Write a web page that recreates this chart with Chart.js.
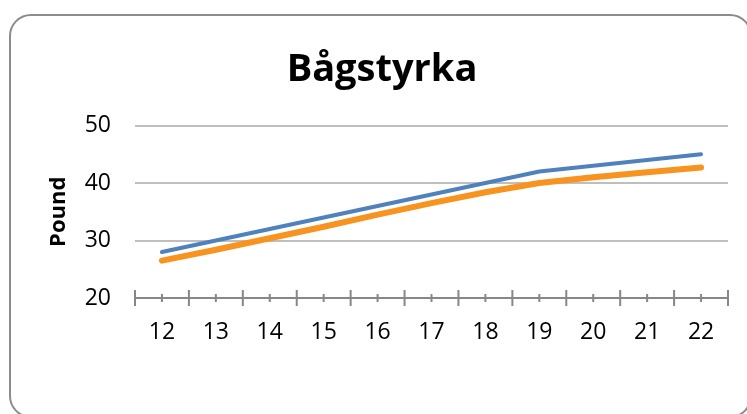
<!DOCTYPE html>
<html>
<head>
<meta charset="utf-8">
<script src="https://cdn.jsdelivr.net/npm/chart.js@4"></script>
<style>
html, body { margin: 0; padding: 0; background: #fff; overflow: hidden; }
#wrap { position: relative; width: 747px; height: 414px; overflow: hidden; }
#frame { position: absolute; left: 9px; top: 14px; width: 739px; height: 400px;
  border: 2px solid #8c8c8c; border-radius: 22px; }
canvas { position: absolute; left: 0; top: 0; }
</style>
</head>
<body>
<div id="wrap">
<div id="frame"></div>
<canvas id="chart" width="747" height="414"></canvas>
</div>
<script>
// data
var ages = ["12", "13", "14", "15", "16", "17", "18", "19", "20", "21", "22"];
var blue = [28, 30, 32, 34, 36, 38, 40, 42, 43, 44, 45];
var orange = [26.5, 28.4, 30.4, 32.4, 34.5, 36.5, 38.4, 40, 41, 41.9, 42.7];
var yTicks = [20, 30, 40, 50];

var font = "'Open Sans', 'DejaVu Sans', sans-serif";

// ticks that cross the x axis line: long ones between categories, short ones at centers
var crossTicks = {
	id: "crossTicks",
	afterDraw: function(chart){
		var x = chart.scales.x;
		var y0 = chart.chartArea.bottom;
		var ctx = chart.ctx;
		var half = (x.getPixelForValue(1) - x.getPixelForValue(0)) / 2;
		ctx.save();
		ctx.strokeStyle = "#878787";
		ctx.lineWidth = 2;
		ctx.beginPath();
		for (var i = 0; i < ages.length; i++) {
			var c = x.getPixelForValue(i);
			ctx.moveTo(c - half, y0 - 8); ctx.lineTo(c - half, y0 + 8);
			ctx.moveTo(c, y0 - 4); ctx.lineTo(c, y0 + 4);
		}
		var last = x.getPixelForValue(ages.length - 1) + half;
		ctx.moveTo(last, y0 - 8); ctx.lineTo(last, y0 + 8);
		ctx.stroke();
		ctx.restore();
	}
};

var chart = new Chart(document.getElementById("chart"), {
	type: "line",
	data: {
		labels: ages,
		datasets: [
			{
				label: "A",
				data: blue,
				borderColor: "#4f81bd",
				borderWidth: 4,
				pointRadius: 0,
				tension: 0,
				borderCapStyle: "round",
				borderJoinStyle: "round"
			},
			{
				label: "B",
				data: orange,
				borderColor: "#f7931e",
				borderWidth: 6,
				pointRadius: 0,
				tension: 0,
				borderCapStyle: "round",
				borderJoinStyle: "round"
			}
		]
	},
	options: {
		responsive: false,
		animation: false,
		events: [],
		layout: { padding: { left: 36, right: 19, top: 0, bottom: 56 } },
		plugins: {
			legend: { display: false },
			tooltip: { enabled: false },
			title: {
				display: true,
				text: "Bågstyrka",
				color: "#000",
				font: { family: font, size: 38, weight: "bold", lineHeight: 1.2 },
				padding: { top: 47, bottom: 33 }
			}
		},
		scales: {
			x: {
				type: "category",
				offset: true,
				grid: { display: false, offset: true },
				border: { display: true, color: "#878787", width: 2 },
				ticks: { color: "#000", font: { family: font, size: 23 }, padding: 13, maxRotation: 0 },
				afterFit: function(s){ s.height = 60; }
			},
			y: {
				min: 20,
				max: 50,
				afterBuildTicks: function(s){ s.ticks = yTicks.map(function(v){ return { value: v }; }); },
				grid: { color: "#bfbfbf", lineWidth: 2, drawTicks: false },
				border: { display: false },
				ticks: { color: "#000", font: { family: font, size: 23 }, padding: 24 },
				title: {
					display: true,
					text: "Pound",
					color: "#000",
					font: { family: font, size: 22, weight: "bold", lineHeight: 1.2 },
					padding: { top: 10, bottom: 0 }
				},
				afterFit: function(s){ s.width = 99; }
			}
		}
	},
	plugins: [crossTicks]
});
</script>
</body>
</html>
